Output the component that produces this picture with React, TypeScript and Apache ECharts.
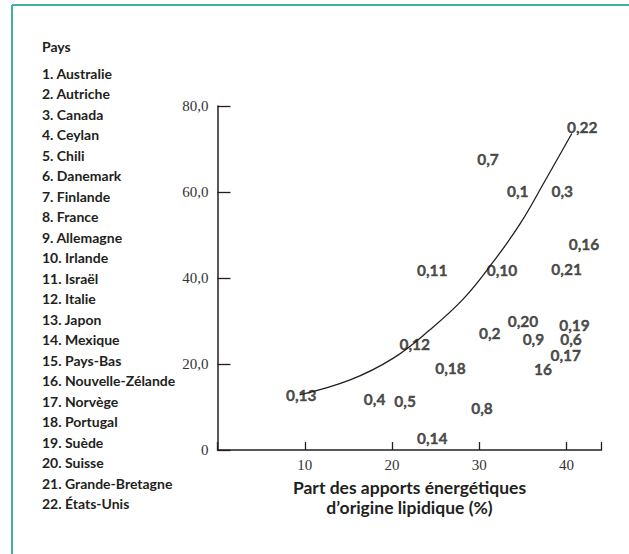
import React, { useEffect, useRef } from 'react';
import * as echarts from 'echarts';

const legendTitle = 'Pays';
const countries = [
  'Australie', 'Autriche', 'Canada', 'Ceylan', 'Chili', 'Danemark', 'Finlande', 'France',
  'Allemagne', 'Irlande', 'Israël', 'Italie', 'Japon', 'Mexique', 'Pays-Bas',
  'Nouvelle-Zélande', 'Norvège', 'Portugal', 'Suède', 'Suisse', 'Grande-Bretagne', 'États-Unis',
];

const pointLabels = ['0,22', '0,7', '0,1', '0,3', '0,16', '0,11', '0,10', '0,21', '0,20', '0,2', '0,9', '0,19', '0,6', '0,17', '16', '0,12', '0,18', '0,5', '0,8', '0,14', '0,13', '0,4'];
const pointX = [41.8, 31.0, 34.4, 39.5, 42.0, 24.6, 32.6, 40.0, 35.0, 31.2, 36.2, 40.9, 40.5, 39.9, 37.3, 22.6, 26.7, 21.5, 30.3, 24.6, 9.6, 18.0];
const pointY = [75.2, 67.7, 60.2, 60.2, 47.8, 41.9, 41.9, 42.1, 30.0, 27.3, 25.9, 29.0, 25.7, 22.2, 18.9, 24.6, 19.0, 11.5, 9.8, 2.7, 12.8, 11.8];

const curveX = [9.4, 15.2, 20.1, 24.3, 28.2, 31.5, 34.7, 37.5, 40.6];
const curveY = [12.8, 16.3, 21.3, 27.9, 35.2, 43.5, 52.7, 62.5, 73.6];

const xLabelValues = [10, 20, 30, 40];
const xAxisTitle = 'Part des apports énergétiques\nd\u2019origine lipidique (%)';

const INK = '#231f20';
const TEAL = '#40b0a8';

export default function App() {
  const ref = useRef<HTMLDivElement>(null);

  useEffect(() => {
    if (!ref.current) return;
    const chart = echarts.init(ref.current, null, { renderer: 'svg' });

    const legendTexts: any[] = [
      {
        type: 'text',
        left: 42,
        top: 39,
        style: { text: legendTitle, font: 'bold 14px Lato', fill: INK },
      },
      ...countries.map((c, i) => ({
        type: 'text',
        left: 42,
        top: 66 + i * 20.5,
        style: { text: `${i + 1}. ${c}`, font: 'bold 14px Lato', fill: INK },
      })),
    ];

    const option: any = {
      animation: false,
      backgroundColor: '#ffffff',
      grid: { left: 217.5, top: 106, width: 384, height: 344, containLabel: false },
      xAxis: {
        type: 'value',
        min: 0,
        max: 44,
        interval: 10,
        axisLine: { show: true, lineStyle: { color: INK, width: 1.5 } },
        axisTick: { show: true, inside: true, length: 8, lineStyle: { color: INK, width: 1.3 } },
        splitLine: { show: false },
        axisLabel: {
          margin: 7,
          fontFamily: 'Liberation Serif',
          fontSize: 15,
          color: '#333',
          formatter: (v: number) => (xLabelValues.includes(v) ? String(v) : ''),
        },
        name: xAxisTitle,
        nameLocation: 'middle',
        nameGap: 27,
        nameTextStyle: {
          fontFamily: 'Lato',
          fontWeight: 'bold',
          fontSize: 17.5,
          lineHeight: 20,
          color: INK,
        },
      },
      yAxis: {
        type: 'value',
        min: 0,
        max: 80,
        interval: 20,
        axisLine: { show: true, lineStyle: { color: INK, width: 1.5 } },
        axisTick: { show: true, inside: true, length: 13, lineStyle: { color: INK, width: 1.3 } },
        splitLine: { show: false },
        axisLabel: {
          margin: 9,
          fontFamily: 'Liberation Serif',
          fontSize: 15,
          color: '#333',
          formatter: (v: number) => (v === 0 ? '0' : v.toFixed(1).replace('.', ',')),
        },
      },
      series: [
        {
          type: 'line',
          data: curveX.map((x, i) => [x, curveY[i]]),
          smooth: 0.4,
          showSymbol: false,
          symbol: 'none',
          lineStyle: { color: INK, width: 1.3 },
          z: 3,
        },
        {
          type: 'scatter',
          data: pointX.map((x, i) => [x, pointY[i], pointLabels[i]]),
          symbolSize: 1,
          itemStyle: { color: 'rgba(0,0,0,0)' },
          label: {
            show: true,
            position: 'inside',
            formatter: (p: any) => p.data[2],
            fontFamily: 'Lato',
            fontWeight: 'bold',
            fontSize: 15.5,
            lineHeight: 11,
            color: INK,
            textBorderColor: INK,
            textBorderWidth: 0.4,
          },
          z: 4,
        },
      ],
      graphic: [
        {
          type: 'line',
          shape: { x1: 12, y1: 5, x2: 629, y2: 5 },
          style: { stroke: TEAL, lineWidth: 2 },
        },
        {
          type: 'line',
          shape: { x1: 12, y1: 5, x2: 12, y2: 554 },
          style: { stroke: TEAL, lineWidth: 2 },
        },
        ...legendTexts,
      ],
    };

    chart.setOption(option);
    return () => chart.dispose();
  }, []);

  return (
    <div
      ref={ref}
      style={{ position: 'absolute', left: 0, top: 0, width: 629, height: 554, background: '#fff' }}
    />
  );
}
